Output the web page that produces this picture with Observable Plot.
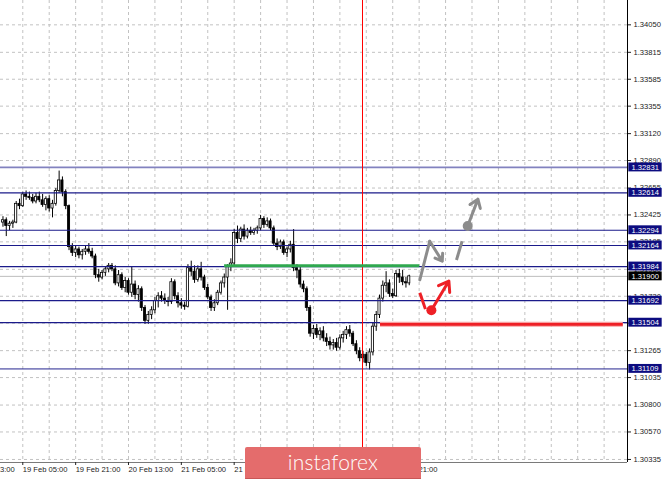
<!DOCTYPE html>
<html>
<head>
<meta charset="utf-8">
<script src="https://cdn.jsdelivr.net/npm/d3@7"></script>
<script src="https://cdn.jsdelivr.net/npm/@observablehq/plot@0.6"></script>
<style>
  html, body { margin: 0; padding: 0; background: #fff; }
  #wrap { position: relative; width: 665px; height: 479px; overflow: hidden; }
  #wrap svg { display: block; }
  #badge {
    position: absolute; left: 245px; top: 447px; width: 176px; height: 31px;
    background: #e46c6c; border-radius: 2px; border-bottom: 2px solid #c85656;
    color: #fff; font-family: Lato, "Open Sans", sans-serif; font-weight: 300;
    font-size: 21px; line-height: 29px; text-align: center; letter-spacing: 0.2px;
  }
</style>
</head>
<body>
<div id="wrap"></div>
<script>
// Hourly candles, bar index counted from 18 Feb 13:00
const firstBar = 10;
const opens = [1.3236,1.3238,1.3233,1.3235,1.3236,1.3252,1.3250,1.3260,1.3258,1.3257,1.3254,1.3258,1.3255,1.3251,1.3256,1.3248,1.3252,1.3263,1.3272,1.3262,
  1.3250,1.3215,1.3210,1.3213,1.3208,1.3211,1.3213,1.3211,1.3207,1.3191,1.3189,1.3193,1.3196,1.3199,1.3196,1.3184,1.3191,1.3180,1.3186,1.3176,
  1.3183,1.3174,1.3179,1.3163,1.3152,1.3157,1.3161,1.3169,1.3173,1.3171,1.3169,1.3168,1.3185,1.3173,1.3167,1.3165,1.3164,1.3197,1.3194,1.3187,
  1.3196,1.3189,1.3180,1.3172,1.3163,1.3167,1.3176,1.3184,1.3189,1.3198,1.3201,1.3227,1.3222,1.3230,1.3224,1.3229,1.3227,1.3229,1.3231,1.3239,
  1.3234,1.3237,1.3231,1.3218,1.3215,1.3219,1.3210,1.3213,1.3217,1.3197,1.3195,1.3183,1.3179,1.3163,1.3141,1.3145,1.3140,1.3143,1.3137,1.3134,
  1.3131,1.3133,1.3129,1.3137,1.3140,1.3144,1.3141,1.3132,1.3126,1.3120,1.3123,1.3116,1.3125,1.3147,1.3157,1.3171,1.3182,1.3184,1.3175,1.3173,
  1.3192,1.3189,1.3185,1.3184];
const highs = [1.3241,1.3240,1.3237,1.3238,1.3254,1.3256,1.3262,1.3263,1.3262,1.3260,1.3261,1.3262,1.3260,1.3258,1.3259,1.3255,1.3265,1.3280,1.3275,1.3264,
  1.3251,1.3218,1.3216,1.3215,1.3213,1.3216,1.3218,1.3214,1.3209,1.3196,1.3195,1.3198,1.3201,1.3201,1.3199,1.3195,1.3193,1.3189,1.3188,1.3198,
  1.3186,1.3182,1.3181,1.3165,1.3160,1.3164,1.3172,1.3176,1.3177,1.3175,1.3172,1.3188,1.3187,1.3176,1.3171,1.3168,1.3200,1.3203,1.3199,1.3199,
  1.3202,1.3191,1.3183,1.3174,1.3170,1.3178,1.3186,1.3192,1.3200,1.3205,1.3230,1.3233,1.3232,1.3234,1.3231,1.3232,1.3231,1.3233,1.3242,1.3241,
  1.3240,1.3239,1.3233,1.3222,1.3221,1.3221,1.3215,1.3220,1.3230,1.3200,1.3198,1.3186,1.3181,1.3165,1.3148,1.3149,1.3146,1.3147,1.3141,1.3138,
  1.3136,1.3137,1.3140,1.3143,1.3147,1.3148,1.3143,1.3135,1.3129,1.3126,1.3125,1.3128,1.3150,1.3160,1.3174,1.3186,1.3194,1.3187,1.3179,1.3195,
  1.3196,1.3195,1.3189,1.3191];
const lows = [1.3232,1.3224,1.3229,1.3231,1.3235,1.3247,1.3249,1.3255,1.3255,1.3252,1.3252,1.3253,1.3249,1.3246,1.3245,1.3240,1.3250,1.3261,1.3258,1.3247,
  1.3212,1.3207,1.3206,1.3205,1.3204,1.3208,1.3209,1.3205,1.3188,1.3185,1.3187,1.3190,1.3193,1.3194,1.3182,1.3181,1.3178,1.3176,1.3174,1.3172,
  1.3170,1.3168,1.3160,1.3149,1.3149,1.3153,1.3158,1.3163,1.3168,1.3166,1.3164,1.3166,1.3170,1.3163,1.3162,1.3161,1.3163,1.3190,1.3184,1.3185,
  1.3186,1.3178,1.3170,1.3160,1.3160,1.3165,1.3174,1.3180,1.3161,1.3194,1.3199,1.3218,1.3219,1.3221,1.3222,1.3225,1.3225,1.3226,1.3229,1.3231,
  1.3232,1.3229,1.3216,1.3212,1.3213,1.3208,1.3206,1.3210,1.3194,1.3188,1.3180,1.3176,1.3160,1.3138,1.3136,1.3137,1.3135,1.3134,1.3130,1.3127,
  1.3127,1.3126,1.3127,1.3133,1.3136,1.3138,1.3130,1.3123,1.3117,1.3116,1.3113,1.3110,1.3122,1.3143,1.3154,1.3168,1.3176,1.3172,1.3171,1.3172,
  1.3184,1.3182,1.3180,1.3182];
const closes = [1.3238,1.3233,1.3235,1.3236,1.3252,1.3250,1.3260,1.3258,1.3257,1.3254,1.3258,1.3255,1.3251,1.3256,1.3248,1.3252,1.3263,1.3272,1.3262,1.3250,
  1.3215,1.3210,1.3213,1.3208,1.3211,1.3213,1.3211,1.3207,1.3191,1.3189,1.3193,1.3196,1.3199,1.3196,1.3184,1.3191,1.3180,1.3186,1.3176,1.3183,
  1.3174,1.3179,1.3163,1.3152,1.3157,1.3161,1.3169,1.3173,1.3171,1.3169,1.3168,1.3185,1.3173,1.3167,1.3165,1.3164,1.3197,1.3194,1.3187,1.3196,
  1.3189,1.3180,1.3172,1.3163,1.3167,1.3176,1.3184,1.3189,1.3198,1.3201,1.3227,1.3222,1.3230,1.3224,1.3229,1.3227,1.3229,1.3231,1.3239,1.3234,
  1.3237,1.3231,1.3218,1.3215,1.3219,1.3210,1.3213,1.3217,1.3197,1.3195,1.3183,1.3179,1.3163,1.3141,1.3145,1.3140,1.3143,1.3137,1.3134,1.3131,
  1.3133,1.3129,1.3137,1.3140,1.3144,1.3141,1.3132,1.3126,1.3120,1.3123,1.3116,1.3125,1.3147,1.3157,1.3171,1.3182,1.3184,1.3175,1.3173,1.3192,
  1.3189,1.3185,1.3184,1.3190];

// Price scale ticks on the right
const priceTicks = [1.34050,1.33815,1.33585,1.33355,1.33120,1.32890,1.32655,1.32425,1.32195,1.31960,1.31730,1.31500,1.31265,1.31035,1.30800,1.30570,1.30335];
// Horizontal support / resistance levels
const levels = [1.32831,1.32614,1.32294,1.32164,1.31984,1.31692,1.31504,1.31109];
const faintLevels = [1.32831,1.31109];
const currentPrice = 1.31900;

// Time axis labels, one every 16 bars
const timeTicks = [0,16,32,48,64,80,96,112,128];
const timeLabels = ["18 Feb 13:00","19 Feb 05:00","19 Feb 21:00","20 Feb 13:00","21 Feb 05:00","21 Feb 21:00","22 Feb 13:00","25 Feb 05:00","25 Feb 21:00"];
const sessionBar = 119;

// Drawn objects: green level, red level, forecast arrows
const greenLevel = {y: 1.3199, x1: 77.1, x2: 136.2};
const redLevel = {y: 1.3149, x1: 124.3, x2: 197.8};
const grayPath = [{x: 136.2, y: 1.3187}, {x: 139.2, y: 1.3220}];
const grayTurn = {x1: 139.2, y1: 1.3220, x2: 143.0, y2: 1.3203};
const grayDash = {x1: 147.3, y1: 1.3204, x2: 149.0, y2: 1.3220};
const grayDot = {x: 150.7, y: 1.3233};
const grayUp = {x1: 150.7, y1: 1.3233, x2: 153.8, y2: 1.3256};
const redDash = {x1: 136.2, y1: 1.3176, x2: 137.9, y2: 1.3162};
const redDot = {x: 139.7, y: 1.3161};
const redUp = {x1: 139.7, y1: 1.3161, x2: 145.0, y2: 1.3186};

const candles = closes.map((c, k) => ({i: firstBar + k, o: opens[k], h: highs[k], l: lows[k], c}));

const xDomain = [9.25, 199.08];
const yDomain = [1.30309, 1.34258];
const xEnd = xDomain[1];
const boxHalf = 0.00038;
const navy = "#1b1b8a";
const font = "7.6px";

const boxed = levels.map(v => ({v, fill: "#0c0c80"})).concat([{v: currentPrice, fill: "#000"}]);

const chart = Plot.plot({
  width: 665,
  height: 479,
  marginTop: 0,
  marginLeft: 0,
  marginRight: 38,
  marginBottom: 17,
  style: {fontFamily: "'Liberation Sans', Arial, sans-serif", fontSize: font, background: "#fff", color: "#222", overflow: "hidden"},
  x: {domain: xDomain, axis: null},
  y: {domain: yDomain, axis: null},
  marks: [
    // dashed grid
    Plot.ruleY(priceTicks, {stroke: "#c2c2c2", strokeDasharray: "3,3"}),
    Plot.ruleX(d3.range(8, 200, 8), {stroke: "#c2c2c2", strokeDasharray: "3,3"}),
    // current price line
    Plot.ruleY([currentPrice], {stroke: "#bdbdbd"}),
    // candles
    Plot.ruleX(candles, {x: "i", y1: "l", y2: "h", stroke: "#000", strokeWidth: 1}),
    Plot.rect(candles, {
      x1: d => d.i - 0.33, x2: d => d.i + 0.33, y1: "o", y2: "c",
      fill: d => d.c >= d.o ? "#fff" : "#000", stroke: "#000", strokeWidth: 0.8
    }),
    // levels
    Plot.ruleY(levels.filter(v => !faintLevels.includes(v)), {stroke: navy, strokeWidth: 1.2}),
    Plot.ruleY(faintLevels, {stroke: navy, strokeOpacity: 0.55, strokeWidth: 1.8}),
    Plot.ruleX([sessionBar], {stroke: "#ff0000", strokeWidth: 1, shapeRendering: "crispEdges"}),
    Plot.ruleY([greenLevel], {y: "y", x1: "x1", x2: "x2", stroke: "#2fa84f", strokeWidth: 3}),
    Plot.ruleY([redLevel], {y: "y", x1: "x1", x2: "x2", stroke: "#f7a0a0", strokeWidth: 5}),
    Plot.ruleY([redLevel], {y: "y", x1: "x1", x2: "x2", stroke: "#ee2026", strokeWidth: 2.6}),
    // forecast arrows
    Plot.line(grayPath, {x: "x", y: "y", stroke: "#8c8c8c", strokeWidth: 3}),
    Plot.arrow([grayTurn], {x1: "x1", y1: "y1", x2: "x2", y2: "y2", stroke: "#8c8c8c", strokeWidth: 3, headLength: 11, headAngle: 70}),
    Plot.link([grayDash], {x1: "x1", y1: "y1", x2: "x2", y2: "y2", stroke: "#8c8c8c", strokeWidth: 3}),
    Plot.arrow([grayUp], {x1: "x1", y1: "y1", x2: "x2", y2: "y2", stroke: "#8c8c8c", strokeWidth: 3, headLength: 11, headAngle: 70}),
    Plot.dot([grayDot], {x: "x", y: "y", r: 5, fill: "#8c8c8c"}),
    Plot.link([redDash], {x1: "x1", y1: "y1", x2: "x2", y2: "y2", stroke: "#ee2026", strokeWidth: 3}),
    Plot.arrow([redUp], {x1: "x1", y1: "y1", x2: "x2", y2: "y2", stroke: "#ee2026", strokeWidth: 3, headLength: 11, headAngle: 70}),
    Plot.dot([redDot], {x: "x", y: "y", r: 5, fill: "#ee2026"}),
    // frame lines
    Plot.ruleY([yDomain[0]], {stroke: "#7a7a7a"}),
    Plot.ruleX([xEnd], {stroke: "#000"}),
    // axes
    Plot.axisY({ticks: priceTicks, anchor: "right", tickSize: 3, tickPadding: 3, tickFormat: d => d.toFixed(5), label: null, fontSize: font}),
    Plot.axisX({ticks: timeTicks, anchor: "bottom", tickSize: 3, tickPadding: 1, textAnchor: "start", tickFormat: d => timeLabels[timeTicks.indexOf(d)], label: null, fontSize: font}),
    // boxed level prices
    Plot.rect(boxed, {x1: () => xEnd + 0.4, x2: () => xEnd + 10.5, y1: d => d.v - boxHalf, y2: d => d.v + boxHalf, fill: "fill"}),
    Plot.text(boxed, {x: () => xEnd, y: "v", text: d => d.v.toFixed(5), dx: 4, textAnchor: "start", fill: "#fff", fontSize: font})
  ]
});

const wrap = document.getElementById("wrap");
wrap.appendChild(chart);
const badge = document.createElement("div");
badge.id = "badge";
badge.textContent = "instaforex";
wrap.appendChild(badge);
</script>
</body>
</html>
